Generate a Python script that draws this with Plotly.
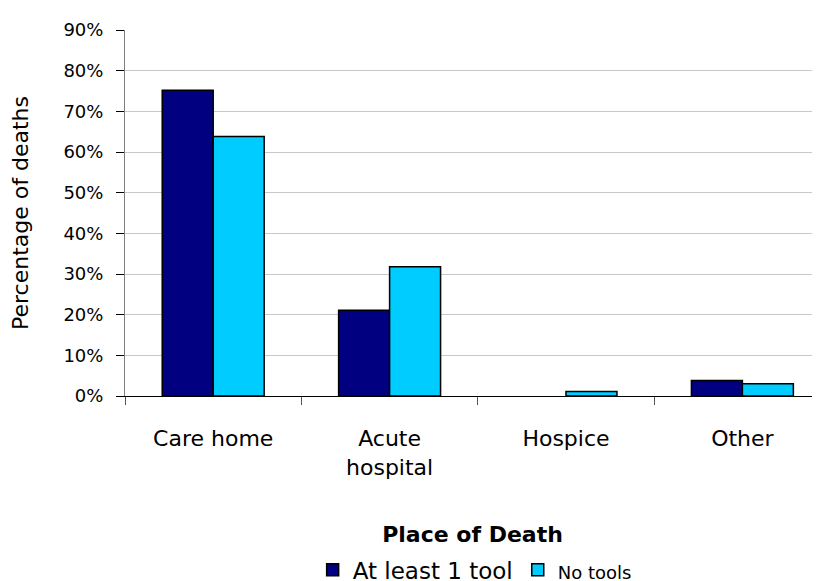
import plotly.graph_objects as go

categories = ["Care home", "Acute<br>hospital", "Hospice", "Other"]
at_least_1_tool = [0.752, 0.211, 0.0, 0.038]
no_tools = [0.638, 0.318, 0.011, 0.030]
y_ticks = [0, 0.1, 0.2, 0.3, 0.4, 0.5, 0.6, 0.7, 0.8, 0.9]

FONT = "Verdana, DejaVu Sans, sans-serif"

fig = go.Figure()
fig.add_trace(go.Bar(
    x=categories, y=at_least_1_tool, name="At least 1 tool",
    marker=dict(color="#000080", line=dict(color="#000000", width=[1.5, 1.5, 0, 1.5])),
))
fig.add_trace(go.Bar(
    x=categories, y=no_tools, name="<span style='font-size:18px'>No tools</span>",
    marker=dict(color="#00CCFF", line=dict(color="#000000", width=1.5)),
))

fig.update_layout(
    template="none",
    width=812, height=573,
    margin=dict(l=117, r=0, t=22, b=185, autoexpand=False),
    paper_bgcolor="white", plot_bgcolor="white",
    barmode="group", bargap=0.422, bargroupgap=0,
    font=dict(family=FONT, color="#000000"),
    showlegend=True,
    legend=dict(orientation="h", x=0.27, xanchor="left", y=-0.416, yanchor="top",
                font=dict(size=23, family=FONT), traceorder="normal"),
    xaxis=dict(
        automargin=False,
        range=[-0.5, 3.44], showline=True, linecolor="#000000", linewidth=1,
        ticks="outside", tickson="boundaries", ticklen=8, tickcolor="#555555",
        tickfont=dict(size=22, family=FONT), ticklabelstandoff=23,
        title=dict(text="<b>Place of Death</b>", font=dict(size=22, family=FONT), standoff=47),
        showgrid=False, zeroline=False,
    ),
    yaxis=dict(
        automargin=False,
        range=[0, 0.9], tickvals=y_ticks, tickformat=".0%",
        showline=True, linecolor="#808080", linewidth=1,
        ticks="outside", ticklen=8, tickcolor="#000000",
        tickfont=dict(size=18, family=FONT), ticklabelstandoff=9,
        showgrid=True, gridcolor="#C8C8C8", gridwidth=1,
        zeroline=False,
        title=dict(text="Percentage of deaths", font=dict(size=22, family=FONT), standoff=36),
    ),
)

fig.write_html("out.html")
